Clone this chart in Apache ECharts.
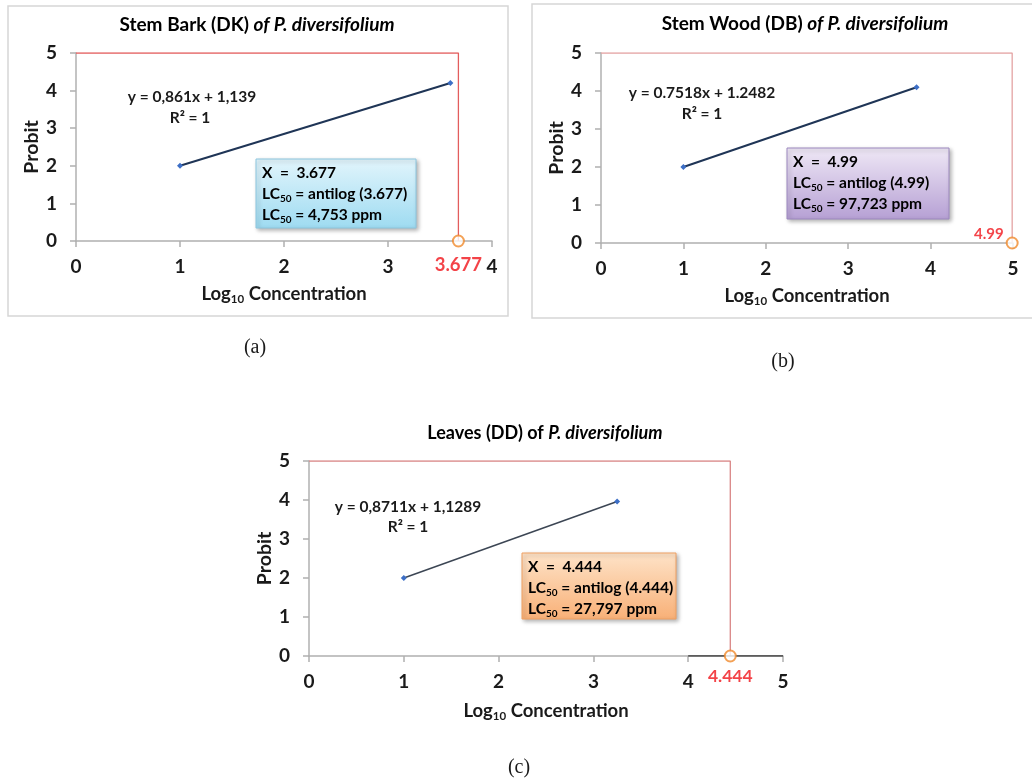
<!DOCTYPE html>
<html><head><meta charset="utf-8">
<script src="https://cdn.jsdelivr.net/npm/echarts@6/dist/echarts.min.js"></script>
<style>html,body{margin:0;padding:0;background:#fff}#c{width:1032px;height:782px}</style>
</head><body><div id="c"></div>
<script>
// ---- data ----
const barkX = [1, 3.6];
const barkY = [2, 4.2];
const barkLC = 3.677;
const woodX = [1, 3.83];
const woodY = [2, 4.1];
const woodLC = 4.99;
const leafX = [1, 3.25];
const leafY = [2, 3.96];
const leafLC = 4.444;
const xMaxes = [4, 5, 5];
const yMax = 5;
const probitTop = 5;

const FONT = 'Lato, "Open Sans", sans-serif';
const TXT = '#1a1a1a';
const AX = '#b0b0b0';

const chart = echarts.init(document.getElementById('c'));

function pairs(xs, ys) { return xs.map((x, i) => [x, ys[i]]); }

function xAxis(i, max, margin, gap) {
  return {
    type: 'value', gridIndex: i, min: 0, max: max, interval: 1,
    splitLine: { show: false },
    axisLine: { show: true, lineStyle: { color: AX, width: 1.5 } },
    axisTick: { show: true, length: 6, lineStyle: { color: AX, width: 1.5 } },
    axisLabel: { fontFamily: FONT, fontSize: 19, fontWeight: 'bold', color: TXT, margin: margin },
    name: 'Log{s|10} Concentration', nameLocation: 'middle', nameGap: gap,
    nameTextStyle: { fontFamily: FONT, fontSize: 18.5, fontWeight: 'bold', color: TXT, lineHeight: 22,
      rich: { s: { fontFamily: FONT, fontSize: 11.5, fontWeight: 'bold', color: TXT, lineHeight: 11, verticalAlign: 'bottom' } } }
  };
}
function yAxis(i, margin, gap) {
  return {
    type: 'value', gridIndex: i, min: 0, max: yMax, interval: 1,
    splitLine: { show: false },
    axisLine: { show: true, lineStyle: { color: AX, width: 1.5 } },
    axisTick: { show: true, length: 6, lineStyle: { color: AX, width: 1.5 } },
    axisLabel: { fontFamily: FONT, fontSize: 19, fontWeight: 'bold', color: TXT, margin: margin },
    name: 'Probit', nameLocation: 'middle', nameRotate: 90, nameGap: gap,
    nameTextStyle: { fontFamily: FONT, fontSize: 19.5, fontWeight: 'bold', color: TXT }
  };
}
function fitSeries(i, xs, ys, color, w) {
  return {
    type: 'line', xAxisIndex: i, yAxisIndex: i, data: pairs(xs, ys),
    symbol: 'diamond', symbolSize: 6, showSymbol: true,
    itemStyle: { color: '#3d6fc6' },
    lineStyle: { color: color, width: w }, z: 5, animation: false
  };
}
function guideSeries(i, lc, color) {
  return {
    type: 'line', xAxisIndex: i, yAxisIndex: i,
    data: [[0, probitTop], [lc, probitTop], [lc, 0]],
    symbol: 'none', lineStyle: { color: color, width: 1.3 }, z: 3, animation: false
  };
}
function lcSeries(i, lc, label) {
  return {
    type: 'scatter', xAxisIndex: i, yAxisIndex: i, data: [[lc, 0]],
    symbol: 'circle', symbolSize: 11, clip: false,
    itemStyle: { color: '#ffffff', borderColor: '#f08a2c', borderWidth: 2 },
    label: Object.assign({ show: true, formatter: String(lc), color: '#f0141a', fontFamily: FONT, fontWeight: 'bold' }, label),
    z: 10, animation: false
  };
}

function box(x, y, w, h, c1, c2, stroke, lines) {
  return {
    type: 'group', x: x, y: y, children: [
      { type: 'rect', shape: { x: 0, y: 0, width: w, height: h },
        style: { fill: new echarts.graphic.LinearGradient(0, 0, 0, 1, [{ offset: 0, color: c1 }, { offset: 1, color: c2 }]),
          stroke: stroke, lineWidth: 1, shadowBlur: 4, shadowOffsetX: 2, shadowOffsetY: 2, shadowColor: 'rgba(0,0,0,0.3)' } },
      { type: 'text', x: 6, y: 3,
        style: { text: lines, fontFamily: FONT,
          rich: {
            t: { fontFamily: FONT, fontSize: 15.5, fontWeight: 'bold', color: TXT, lineHeight: 21 },
            s: { fontFamily: FONT, fontSize: 10, fontWeight: 'bold', color: TXT, lineHeight: 11, verticalAlign: 'bottom' }
          } } }
    ]
  };
}
function boxText(xv, ppm) {
  return '{t|X  =  ' + xv + '}\n{t|LC}{s|50}{t| = antilog (' + xv + ')}\n{t|LC}{s|50}{t| = ' + ppm + ' ppm}';
}
function title(x, y, a, b, size) {
  return { type: 'text', x: x, y: y,
    style: { text: '{a|' + a + '}{b|' + b + '}', align: 'center', verticalAlign: 'middle',
      rich: { a: { fontFamily: FONT, fontSize: size, fontWeight: 'bold', color: TXT },
              b: { fontFamily: FONT, fontSize: size, fontWeight: 'bold', fontStyle: 'italic', color: TXT } } } };
}
function plain(x, y, t, size, family, weight) {
  return { type: 'text', x: x, y: y,
    style: { text: t, align: 'center', verticalAlign: 'middle', fontFamily: family || FONT, fontSize: size,
      fontWeight: weight || 'bold', fill: TXT } };
}

chart.setOption({
  animation: false,
  grid: [
    { left: 76, top: 53, width: 416, height: 188 },
    { left: 601, top: 53, width: 412, height: 190 },
    { left: 309, top: 461, width: 474, height: 195 }
  ],
  xAxis: [xAxis(0, xMaxes[0], 16, 42), xAxis(1, xMaxes[1], 16, 42), xAxis(2, xMaxes[2], 16, 44)],
  yAxis: [yAxis(0, 19, 34), yAxis(1, 19, 33), yAxis(2, 19, 31)],
  series: [
    guideSeries(0, barkLC, '#e35d5d'),
    fitSeries(0, barkX, barkY, '#1f3556', 2),
    lcSeries(0, barkLC, { position: 'bottom', distance: 8, fontSize: 18.5 }),
    guideSeries(1, woodLC, '#e4a3a3'),
    fitSeries(1, woodX, woodY, '#1f3556', 2),
    lcSeries(1, woodLC, { position: 'left', distance: 2, offset: [0, -9], fontSize: 15 }),
    guideSeries(2, leafLC, '#d98585'),
    fitSeries(2, leafX, leafY, '#3c4654', 1.5),
    { type: 'line', xAxisIndex: 2, yAxisIndex: 2, data: [[4, 0], [5, 0]], symbol: 'none',
      lineStyle: { color: '#3a3a3a', width: 1.5 }, z: 4, animation: false },
    lcSeries(2, leafLC, { position: 'bottom', distance: 5, fontSize: 17.5 })
  ],
  graphic: [
    { type: 'rect', shape: { x: 8, y: 6, width: 500, height: 310 }, style: { fill: 'none', stroke: '#d6d6d6', lineWidth: 1.5 } },
    { type: 'rect', shape: { x: 532, y: 4, width: 520, height: 314 }, style: { fill: 'none', stroke: '#d6d6d6', lineWidth: 1.5 } },
    title(257, 25, 'Stem Bark (DK) ', 'of P. diversifolium', 19),
    title(805, 24, 'Stem Wood (DB) ', 'of P. diversifolium', 19),
    { type: 'text', x: 545, y: 433,
      style: { text: '{a|Leaves (DD) of }{b|P. diversifolium}', align: 'center', verticalAlign: 'middle',
        rich: { a: { fontFamily: FONT, fontSize: 18, fontWeight: 'bold', color: TXT },
                b: { fontFamily: FONT, fontSize: 18, fontWeight: 'bold', fontStyle: 'italic', color: TXT } } } },
    plain(192, 97, 'y = 0,861x + 1,139', 15.5),
    plain(190, 118, 'R² = 1', 15.5),
    plain(702, 93, 'y = 0.7518x + 1.2482', 15.5),
    plain(702, 114, 'R² = 1', 15.5),
    plain(408, 507, 'y = 0,8711x + 1,1289', 15.5),
    plain(408, 527, 'R² = 1', 15.5),
    box(256, 159, 160, 69, '#e2f5fc', '#9edbf1', '#8cc6df', boxText('3.677', '4,753')),
    box(787, 148, 162, 71, '#efe8f6', '#b6a0d4', '#9c88bf', boxText('4.99', '97,723')),
    box(522, 553, 154, 66, '#fee3c8', '#f8b077', '#efa062', boxText('4.444', '27,797')),
    plain(255, 348, '(a)', 20, '"Liberation Serif", serif', 'normal'),
    plain(783, 362, '(b)', 20, '"Liberation Serif", serif', 'normal'),
    plain(519, 768, '(c)', 20, '"Liberation Serif", serif', 'normal')
  ]
});
</script>
</body></html>
